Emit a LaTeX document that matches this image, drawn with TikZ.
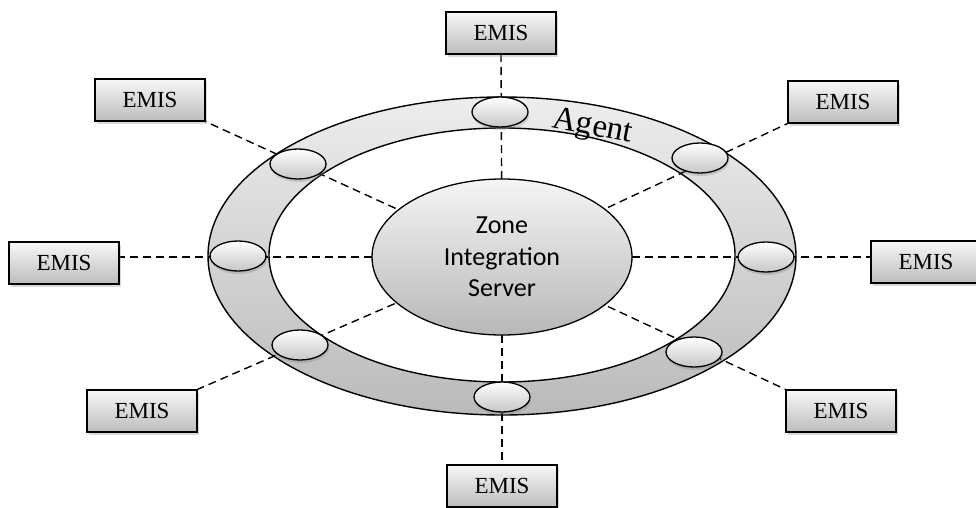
\documentclass[tikz,border=0pt]{standalone}
\usepackage{fontspec}
\setmainfont{Liberation Serif}
\newfontfamily\zisfont{Carlito}
\usetikzlibrary{shapes.geometric,shadows,backgrounds}

\begin{document}
\begin{tikzpicture}[x=1pt, y=-1pt, thick,
  emis/.style = {draw, line width=1.3pt, minimum width=110pt, minimum height=42pt, top color=black!3, bottom color=black!26, drop shadow={opacity=0.3, shadow xshift=2pt, shadow yshift=-3pt}, font=\fontsize{23}{26}\selectfont},
  agent/.style = {draw, ellipse, line width=1.3pt, minimum width=56pt, minimum height=30pt, top color=white, bottom color=black!22, drop shadow={opacity=0.3, shadow xshift=1pt, shadow yshift=-3pt}},
  zis/.style = {draw, ellipse, line width=1.3pt, minimum width=260pt, minimum height=156pt, inner sep=0pt, align=center, top color=black!4, bottom color=black!28, font=\zisfont\fontsize{26}{31.5}\selectfont},
  link/.style = {dash pattern=on 8pt off 5pt, line width=1.4pt}]
\useasboundingbox (0,0) rectangle (976,508);
% server and agents
\node[zis] (zis) at (502,257) {Zone\\Integration\\Server};
\node[agent] (agN) at (500,112) {};
\node[agent] (agNE) at (700,158) {};
\node[agent] (agE) at (766,257) {};
\node[agent] (agSE) at (694,352) {};
\node[agent] (agS) at (502,397) {};
\node[agent] (agSW) at (300,345) {};
\node[agent] (agW) at (238,256) {};
\node[agent] (agNW) at (298,164) {};
\node[anchor=base, rotate=-11, font=\fontsize{33}{36}\selectfont] (ring) at (591,135) {Agent};
% EMIS boxes
\node[emis] (emisN) at (501,33) {EMIS};
\node[emis] (emisNE) at (843,102) {EMIS};
\node[emis] (emisE) at (926,262) {EMIS};
\node[emis] (emisSE) at (841,411) {EMIS};
\node[emis] (emisS) at (502,486) {EMIS};
\node[emis] (emisSW) at (142,411) {EMIS};
\node[emis] (emisW) at (64,263) {EMIS};
\node[emis] (emisNW) at (150,100) {EMIS};
\begin{scope}[on background layer]
% agent ring
\path[draw, line width=1.4pt, top color=black!7, bottom color=black!27] (502,256) ellipse [x radius=294pt, y radius=159pt];
\path[draw, line width=1.4pt, fill=white] (502,255) ellipse [x radius=233pt, y radius=127pt];
\draw[link] (zis.center) -- (emisN.south);
\draw[link] (zis.center) -- (emisNE.south west);
\draw[link] (zis.center) -- (zis.center -| emisE.west);
\draw[link] (zis.center) -- (emisSE.north west);
\draw[link] (zis.center) -- (emisS.north);
\draw[link] (zis.center) -- (emisSW.north east);
\draw[link] (zis.center) -- (zis.center -| emisW.east);
\draw[link] (zis.center) -- (emisNW.south east);
\end{scope}
\end{tikzpicture}
\end{document}
